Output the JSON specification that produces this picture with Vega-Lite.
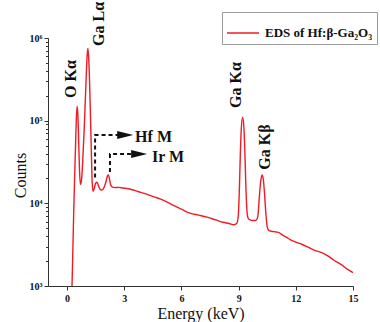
{
  "$schema": "https://vega.github.io/schema/vega-lite/v6.json",
  "autosize": "none",
  "width": 305,
  "height": 248,
  "padding": {"left": 48, "top": 38, "right": 27, "bottom": 36},
  "background": "white",
  "config": {
    "view": {"stroke": null},
    "font": "Liberation Serif",
    "axis": {"domainColor": "#333", "tickColor": "#333", "grid": false, "labelColor": "#111", "titleColor": "#111"}
  },
  "datasets": {
    "spectrum": [
      {"energy": 0.26, "counts": 1000}, {"energy": 0.30, "counts": 2500}, {"energy": 0.35, "counts": 8000},
      {"energy": 0.40, "counts": 22000}, {"energy": 0.45, "counts": 55000}, {"energy": 0.49, "counts": 110000},
      {"energy": 0.53, "counts": 150000}, {"energy": 0.57, "counts": 115000}, {"energy": 0.61, "counts": 55000},
      {"energy": 0.65, "counts": 26000}, {"energy": 0.70, "counts": 17000}, {"energy": 0.75, "counts": 18500},
      {"energy": 0.80, "counts": 26000}, {"energy": 0.85, "counts": 45000}, {"energy": 0.90, "counts": 80000},
      {"energy": 0.95, "counts": 160000}, {"energy": 1.00, "counts": 320000}, {"energy": 1.05, "counts": 600000},
      {"energy": 1.09, "counts": 750000}, {"energy": 1.13, "counts": 600000}, {"energy": 1.18, "counts": 300000},
      {"energy": 1.23, "counts": 110000}, {"energy": 1.27, "counts": 45000}, {"energy": 1.31, "counts": 20000},
      {"energy": 1.36, "counts": 14000}, {"energy": 1.42, "counts": 15000}, {"energy": 1.50, "counts": 17500},
      {"energy": 1.57, "counts": 18000}, {"energy": 1.64, "counts": 16500}, {"energy": 1.72, "counts": 15000},
      {"energy": 1.80, "counts": 14500}, {"energy": 1.88, "counts": 14800}, {"energy": 1.96, "counts": 16000},
      {"energy": 2.05, "counts": 18500}, {"energy": 2.12, "counts": 21500}, {"energy": 2.17, "counts": 22000},
      {"energy": 2.22, "counts": 20000}, {"energy": 2.28, "counts": 17000}, {"energy": 2.36, "counts": 15800},
      {"energy": 2.50, "counts": 15500}, {"energy": 2.70, "counts": 15600}, {"energy": 2.94, "counts": 15300},
      {"energy": 3.20, "counts": 15000}, {"energy": 3.47, "counts": 14500}, {"energy": 3.75, "counts": 13800},
      {"energy": 4.00, "counts": 13300}, {"energy": 4.30, "counts": 12600}, {"energy": 4.60, "counts": 11900},
      {"energy": 4.88, "counts": 11300}, {"energy": 5.20, "counts": 10500}, {"energy": 5.56, "counts": 9500},
      {"energy": 6.00, "counts": 8500}, {"energy": 6.45, "counts": 7600}, {"energy": 6.90, "counts": 7200},
      {"energy": 7.34, "counts": 6800}, {"energy": 7.80, "counts": 6300}, {"energy": 8.18, "counts": 5900},
      {"energy": 8.50, "counts": 5700}, {"energy": 8.75, "counts": 5500}, {"energy": 8.90, "counts": 5700},
      {"energy": 8.98, "counts": 7000}, {"energy": 9.04, "counts": 15000}, {"energy": 9.09, "counts": 40000},
      {"energy": 9.14, "counts": 80000}, {"energy": 9.21, "counts": 110000}, {"energy": 9.28, "counts": 80000},
      {"energy": 9.33, "counts": 40000}, {"energy": 9.38, "counts": 16000}, {"energy": 9.44, "counts": 8000},
      {"energy": 9.50, "counts": 6600}, {"energy": 9.60, "counts": 6300}, {"energy": 9.75, "counts": 6200},
      {"energy": 9.90, "counts": 6200}, {"energy": 10.00, "counts": 6800}, {"energy": 10.07, "counts": 10500},
      {"energy": 10.13, "counts": 16000}, {"energy": 10.20, "counts": 21000}, {"energy": 10.24, "counts": 22000},
      {"energy": 10.30, "counts": 19000}, {"energy": 10.36, "counts": 13000}, {"energy": 10.43, "counts": 7500},
      {"energy": 10.50, "counts": 5200}, {"energy": 10.58, "counts": 4700}, {"energy": 10.70, "counts": 4600},
      {"energy": 10.85, "counts": 4550}, {"energy": 10.96, "counts": 4500}, {"energy": 11.10, "counts": 4450},
      {"energy": 11.20, "counts": 4300}, {"energy": 11.33, "counts": 4100}, {"energy": 11.50, "counts": 3900},
      {"energy": 11.70, "counts": 3650}, {"energy": 12.00, "counts": 3400}, {"energy": 12.30, "counts": 3200},
      {"energy": 12.58, "counts": 3000}, {"energy": 12.90, "counts": 2750}, {"energy": 13.20, "counts": 2600},
      {"energy": 13.42, "counts": 2500}, {"energy": 13.70, "counts": 2300}, {"energy": 14.00, "counts": 2050},
      {"energy": 14.16, "counts": 1950}, {"energy": 14.40, "counts": 1800}, {"energy": 14.70, "counts": 1600},
      {"energy": 15.00, "counts": 1450}
    ],
    "arrows": [
      {"group": "Hf", "step": 1, "energy": 1.47, "counts": 20500},
      {"group": "Hf", "step": 2, "energy": 1.47, "counts": 67000},
      {"group": "Hf", "step": 3, "energy": 2.7, "counts": 67000},
      {"group": "Ir", "step": 1, "energy": 2.25, "counts": 24000},
      {"group": "Ir", "step": 2, "energy": 2.25, "counts": 39500},
      {"group": "Ir", "step": 3, "energy": 3.35, "counts": 39500}
    ],
    "heads": [
      {"energy": 3.05, "counts": 67000},
      {"energy": 3.78, "counts": 39500}
    ],
    "peaks": [
      {"label": "O Kα", "energy": 0.21, "counts": 319000},
      {"label": "Ga Lα", "energy": 1.68, "counts": 1480000},
      {"label": "Ga Kα", "energy": 8.86, "counts": 270000},
      {"label": "Ga Kβ", "energy": 10.38, "counts": 48000}
    ],
    "arrowLabels": [
      {"label": "Hf M", "energy": 3.57, "counts": 63000},
      {"label": "Ir M", "energy": 4.46, "counts": 36400}
    ]
  },
  "layer": [
    {
      "data": {"name": "spectrum"},
      "mark": {"type": "line", "strokeWidth": 1.4, "interpolate": "monotone"},
      "encoding": {
        "x": {
          "field": "energy", "type": "quantitative",
          "scale": {"domain": [-1, 15], "nice": false, "zero": false},
          "axis": {
            "title": "Energy (keV)",
            "values": [0, 1.5, 3, 4.5, 6, 7.5, 9, 10.5, 12, 13.5, 15],
            "labelExpr": "datum.value % 3 == 0 ? datum.label : ''",
            "labelOverlap": false,
            "labelFlush": false,
            "tickSize": {"condition": {"test": "datum.value % 3 == 0", "value": 4}, "value": 3},
            "labelFont": "Liberation Serif", "labelFontWeight": "bold", "labelFontSize": 10,
            "labelPadding": 3,
            "titleFont": "Liberation Serif", "titleFontWeight": "normal", "titleFontSize": 16,
            "titleY": 32, "titleBaseline": "alphabetic"
          }
        },
        "y": {
          "field": "counts", "type": "quantitative",
          "scale": {"type": "log", "domain": [1000, 1000000], "nice": false},
          "axis": {
            "title": "Counts",
            "values": [1000, 2000, 3000, 4000, 5000, 6000, 7000, 8000, 9000, 10000, 20000, 30000, 40000, 50000, 60000, 70000, 80000, 90000, 100000, 200000, 300000, 400000, 500000, 600000, 700000, 800000, 900000, 1000000],
            "labelExpr": "datum.value == 1000000 ? '10⁶' : datum.value == 100000 ? '10⁵' : datum.value == 10000 ? '10⁴' : datum.value == 1000 ? '10³' : ''",
            "labelOverlap": false,
            "labelFlush": false,
            "tickSize": {"condition": {"test": "indexof([1000, 10000, 100000, 1000000], datum.value) >= 0", "value": 4}, "value": 2.5},
            "labelFont": "Liberation Serif", "labelFontWeight": "bold", "labelFontSize": 10,
            "labelPadding": 2,
            "titleFont": "Liberation Serif", "titleFontWeight": "normal", "titleFontSize": 16,
            "titleX": -28, "titleY": 137, "titleBaseline": "middle"
          }
        },
        "color": {
          "datum": "EDS of Hf:β-Ga₂O₃",
          "type": "nominal",
          "scale": {"range": ["#ee1c25"]},
          "legend": {
            "orient": "none", "legendX": 174, "legendY": -26,
            "title": null,
            "strokeColor": "#999", "fillColor": "white", "padding": 4,
            "symbolType": "stroke", "symbolSize": 1024, "symbolStrokeWidth": 1.5,
            "labelFont": "Liberation Serif", "labelFontWeight": "bold", "labelFontSize": 13,
            "labelOffset": 5, "labelLimit": 300, "labelColor": "#111"
          }
        }
      }
    },
    {
      "data": {"name": "arrows"},
      "mark": {"type": "line", "color": "#111", "strokeWidth": 2, "strokeDash": [4, 3]},
      "encoding": {
        "x": {"field": "energy", "type": "quantitative"},
        "y": {"field": "counts", "type": "quantitative"},
        "detail": {"field": "group"},
        "order": {"field": "step"}
      }
    },
    {
      "data": {"name": "heads"},
      "mark": {"type": "point", "shape": "M -1 -0.5 L 1 0 L -1 0.5 Z", "filled": true, "color": "#111", "opacity": 1, "size": 256},
      "encoding": {
        "x": {"field": "energy", "type": "quantitative"},
        "y": {"field": "counts", "type": "quantitative"}
      }
    },
    {
      "data": {"name": "peaks"},
      "mark": {"type": "text", "angle": 270, "align": "center", "baseline": "middle", "font": "Liberation Serif", "fontWeight": "bold", "fontSize": 16, "color": "#111"},
      "encoding": {
        "x": {"field": "energy", "type": "quantitative"},
        "y": {"field": "counts", "type": "quantitative"},
        "text": {"field": "label"}
      }
    },
    {
      "data": {"name": "arrowLabels"},
      "mark": {"type": "text", "align": "left", "baseline": "middle", "font": "Liberation Serif", "fontWeight": "bold", "fontSize": 16, "color": "#111"},
      "encoding": {
        "x": {"field": "energy", "type": "quantitative"},
        "y": {"field": "counts", "type": "quantitative"},
        "text": {"field": "label"}
      }
    }
  ]
}
